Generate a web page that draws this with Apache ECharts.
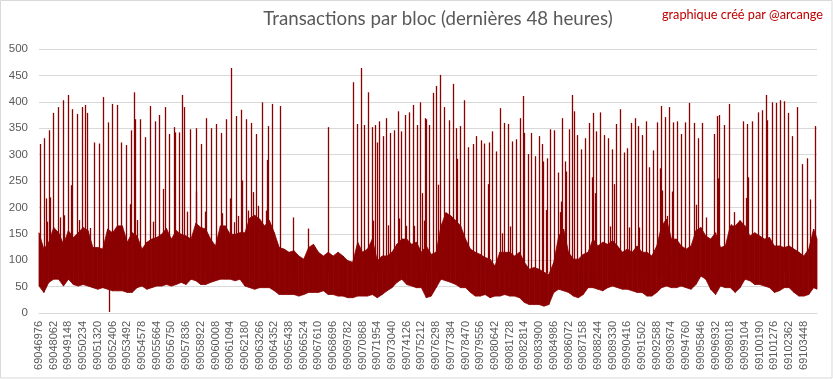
<!DOCTYPE html>
<html><head><meta charset="utf-8">
<script src="https://cdn.jsdelivr.net/npm/echarts@6/dist/echarts.min.js"></script>
<style>html,body{margin:0;padding:0;background:#fff}#c{width:833px;height:379px}</style>
</head><body><div id="c"></div>
<script>
const firstBlock = 69046976;
const lastBlock = 69104420;
const labelStep = 1086;
const bandStep = 362;

// upper edge of the dense band, one reading every bandStep blocks
const bandHigh = [
152,121,134,162,152,130,156,143,152,162,156,124,124,121,159,152,165,165,134,152,146,121,
134,140,143,149,160,140,156,149,146,140,170,162,159,140,127,165,165,149,149,152,152,180,185,178,
165,175,152,124,121,115,118,108,102,124,130,115,108,115,108,115,108,99,96,134,115,121,140,
99,108,108,115,130,140,140,130,134,115,127,111,115,165,190,184,175,165,140,121,115,111,105,
102,89,115,115,115,108,115,96,83,86,83,77,73,96,146,159,115,102,102,111,115,140,127,134,
130,137,127,115,121,115,127,115,115,108,127,165,178,140,140,127,121,127,156,162,146,140,152,
124,127,165,165,175,165,146,152,146,140,143,127,127,124,127,121,115,108,121,159,140
];
// lower edge of the dense band
const bandLow = [
51,39,58,64,64,51,64,54,51,54,51,48,45,48,45,42,42,42,39,39,48,51,
45,48,51,51,54,51,54,58,54,64,61,54,54,58,61,64,64,64,61,64,51,48,45,48,
48,48,42,35,35,35,35,32,35,39,39,39,42,35,35,32,32,29,29,32,32,32,35,
29,35,42,48,58,64,54,51,48,48,29,32,48,64,61,58,54,48,48,39,32,32,35,
29,32,32,35,32,32,29,20,16,16,16,13,16,39,45,42,39,32,29,35,48,48,45,42,
48,51,48,45,45,42,39,39,32,32,39,48,51,48,48,51,48,45,54,70,64,45,35,
51,48,48,39,48,64,61,54,54,51,48,39,42,48,48,39,32,32,35,48,45
];

// isolated peaks rising out of the band (block number, transactions)
const spikeBlocks = [
69047050,69047367,69047493,69047589,69047736,69047810,69048032,69048379,69048526,69048748,
69048844,69049139,69049316,69049435,69049804,69049929,69050173,69050394,69050542,69050763,
69051059,69051428,69051723,69052092,69052388,69052757,69053052,69053421,69053717,69053791,
69054012,69054086,69054234,69054455,
69054824,69055193,69055415,69055563,69055858,69056168,69056301,69056596,69056965,69057039,
69057334,69057556,69057704,69057925,69058146,69058545,69058590,69058959,69059254,69059328,
69059697,69060066,69060435,69060509,69060805,69061100,69061174,69061395,69061543,69061691,
69061912,69061986,69062281,69062429,69062650,69062798,69063020,69063167,
69063462,69063758,69063846,69063905,69064201,69064791,69065751,69066858,69068335,69070181,
69070476,69070772,69070993,69071288,69071584,69071658,
69071805,69071953,69072100,69072396,69072617,69072765,69072913,69073208,69073503,69073577,
69073725,69074020,69074094,69074316,69074611,69074685,69074906,69075128,69075276,69075423,
69075497,69075571,69075793,69076088,69076309,69076457,69076605,69076900,69077269,69077564,
69077786,69077860,69078081,69078376,69078672,69079041,69079262,69079631,69079853,69080148,
69080222,69080443,69080738,69081034,69081181,69081329,69081625,69081772,69081920,69082216,
69082511,69082732,69082806,69083102,69083323,69083618,69083914,69084135,69084209,69084431,
69084505,69084726,69085021,69085317,69085464,69085538,69085612,69085834,69085908,69086129,
69086351,69086498,69086720,69087015,69087310,69087606,69087827,69087901,69088049,69088123,
69088418,
69088713,69089009,69089157,69089304,69089452,69089600,69089895,69090190,69090412,69090559,
69090707,69091002,69091224,69091298,69091519,69091815,69092036,69092331,69092627,69092848,
69092922,69092996,69093218,69093365,69093513,69093735,69093809,69094104,69094399,69094695,
69094990,69095359,69095507,69095654,69095950,69096245,69096836,69097057,69097131,
69097203,69097572,69097941,69098089,69098310,69098975,69099196,69099270,69099344,69099639,
69100082,69100378,69100673,69100747,69101116,69101411,69101707,69102002,69102297,69102593,
69102962,69103331,69103700,69103922,69104291
];
const spikeValues = [
320,331,217,173,346,219,379,390,181,403,
185,413,242,386,377,176,390,394,379,161,
323,321,409,361,396,394,323,318,206,346,
418,367,176,367,
333,392,173,363,375,235,390,339,352,342,
342,413,390,192,348,230,350,320,192,369,
350,358,341,189,367,217,464,172,373,184,
385,251,367,194,360,229,339,203,
399,194,290,354,396,392,181,160,352,437,
358,464,356,418,352,175,
356,323,363,335,369,166,341,346,382,179,
344,375,165,380,394,165,356,399,227,175,
369,367,356,417,430,243,451,390,365,434,
350,292,354,403,314,320,335,327,321,244,
323,344,306,388,151,360,358,164,325,329,
369,411,341,301,341,297,335,320,287,195,
293,348,346,266,191,211,369,287,268,348,
413,382,337,310,331,360,257,379,227,344,
380,
337,331,164,310,244,358,386,304,312,162,
360,369,354,162,337,363,276,308,361,274,
392,232,371,184,390,230,361,363,339,361,
398,360,205,331,360,181,339,373,255,
375,356,396,168,191,363,218,358,257,363,
380,384,413,365,399,398,403,401,379,335,
390,282,293,215,354
];
// level inside the band from which the peaks rise
const spikeBase = 75;

// single drop below the band
const dipBlocks = [69052144];
const dipLow = [2];
const dipHigh = [60];

const RED = '#8b0000';
const GRAY_TXT = '#595959';
const GRID = '#d9d9d9';

const bandBlocks = bandHigh.map((_, i) => Math.min(firstBlock + i * bandStep, lastBlock));
const bandSegs = [];
for (let i = 0; i < bandBlocks.length - 1; i++) {
  bandSegs.push([bandBlocks[i], bandLow[i], bandHigh[i], bandBlocks[i + 1], bandLow[i + 1], bandHigh[i + 1]]);
}
const spikeData = spikeBlocks.map((b, i) => [b, spikeBase, spikeValues[i]]);
const dipData = dipBlocks.map((b, i) => [b, dipLow[i], dipHigh[i]]);

function renderStroke(params, api) {
  const p = api.coord([api.value(0), api.value(1)]);
  const q = api.coord([api.value(0), api.value(2)]);
  const x = Math.round(p[0]) + 0.5;
  return {type: 'line', shape: {x1: x, y1: p[1], x2: x, y2: q[1]},
          style: {stroke: RED, lineWidth: 1.3}};
}

const chart = echarts.init(document.getElementById('c'), null, {renderer: 'canvas'});
chart.setOption({
  animation: false,
  backgroundColor: '#ffffff',
  grid: {left: 39, right: 16, top: 49, bottom: 66, containLabel: false, outerBoundsMode: 'none'},
  xAxis: {
    type: 'value', min: firstBlock, max: lastBlock, interval: labelStep,
    axisLine: {show: true, lineStyle: {color: GRID, width: 1}},
    axisTick: {show: false},
    splitLine: {show: false},
    axisLabel: {
      rotate: 90, color: GRAY_TXT, fontSize: 11, fontFamily: 'Liberation Sans', margin: 8,
      showMaxLabel: false, showMinLabel: true,
      formatter: v => String(v)
    }
  },
  yAxis: {
    type: 'value', min: 0, max: 500, interval: 50,
    axisLine: {show: false}, axisTick: {show: false},
    splitLine: {lineStyle: {color: GRID, width: 1}},
    axisLabel: {color: GRAY_TXT, fontSize: 11.5, fontFamily: 'Liberation Sans', margin: 11}
  },
  graphic: [
    {type: 'rect', silent: true, shape: {x: 0.5, y: 0.5, width: 831.5, height: 377.5},
     style: {fill: 'none', stroke: GRID, lineWidth: 1}},
    {type: 'text', x: 438, y: 19, silent: true,
     style: {text: 'Transactions par bloc (dernières 48 heures)', fill: GRAY_TXT,
             font: '18.7px Lato', align: 'center', verticalAlign: 'middle'}},
    {type: 'text', x: 823, y: 15, silent: true,
     style: {text: 'graphique créé par @arcange', fill: '#c00000',
             font: '12.7px Lato', align: 'right', verticalAlign: 'middle'}}
  ],
  series: [
    {
      type: 'custom', name: 'band', data: bandSegs,
      encode: {x: [0, 3], y: [1, 2, 4, 5]},
      renderItem: function (params, api) {
        const a = api.coord([api.value(0), api.value(1)]);
        const b = api.coord([api.value(0), api.value(2)]);
        const c = api.coord([api.value(3), api.value(5)]);
        const d = api.coord([api.value(3), api.value(4)]);
        return {type: 'polygon', shape: {points: [a, b, c, d]},
                style: {fill: RED, stroke: RED, lineWidth: 0.8}};
      }
    },
    {
      type: 'custom', name: 'spikes', data: spikeData,
      encode: {x: 0, y: [1, 2]},
      renderItem: renderStroke
    },
    {
      type: 'custom', name: 'dip', data: dipData,
      encode: {x: 0, y: [1, 2]},
      renderItem: renderStroke
    }
  ]
});
</script></body></html>
